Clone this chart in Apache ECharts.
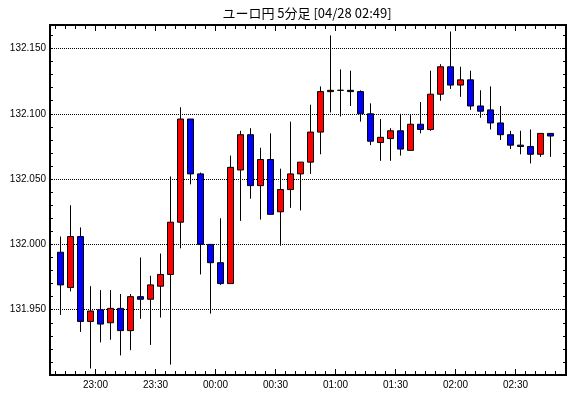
<!DOCTYPE html>
<html><head><meta charset="utf-8">
<script src="https://cdn.jsdelivr.net/npm/echarts@6/dist/echarts.min.js"></script>
<style>html,body{margin:0;padding:0;background:#fff}#c{width:570px;height:398px}</style>
</head><body><div id="c"></div>
<script>
const chartTitle = 'ユーロ円 5分足 [04/28 02:49]';
const times = ['22:40','22:45','22:50','22:55','23:00','23:05','23:10','23:15','23:20','23:25',
  '23:30','23:35','23:40','23:45','23:50','23:55','00:00','00:05','00:10','00:15',
  '00:20','00:25','00:30','00:35','00:40','00:45','00:50','00:55','01:00','01:05',
  '01:10','01:15','01:20','01:25','01:30','01:35','01:40','01:45','01:50','01:55',
  '02:00','02:05','02:10','02:15','02:20','02:25','02:30','02:35','02:40','02:45'];
const openV = [131.994,131.967,132.006,131.941,131.950,131.940,131.951,131.934,131.960,131.958,
  131.968,131.977,132.017,132.096,132.054,132.000,131.986,131.970,132.057,132.084,
  132.045,132.065,132.025,132.042,132.054,132.063,132.086,132.117,132.118,132.118,
  132.117,132.100,132.078,132.081,132.087,132.072,132.092,132.088,132.115,132.136,
  132.122,132.126,132.106,132.103,132.093,132.084,132.076,132.075,132.069,132.085];
const closeV = [131.969,132.006,131.941,131.949,131.939,131.951,131.934,131.960,131.958,131.969,
  131.977,132.017,132.096,132.054,132.000,131.986,131.970,132.059,132.084,132.045,
  132.065,132.023,132.042,132.054,132.063,132.086,132.117,132.118,132.118,132.117,
  132.100,132.079,132.082,132.087,132.073,132.092,132.088,132.115,132.136,132.122,
  132.126,132.106,132.102,132.093,132.084,132.076,132.075,132.069,132.085,132.083];
const lowV = [131.946,131.964,131.933,131.905,131.925,131.927,131.915,131.919,131.943,131.923,
  131.944,131.908,131.997,132.046,131.977,131.947,131.969,131.970,132.018,132.035,
  132.019,132.023,131.999,132.028,132.026,132.054,132.069,132.101,132.098,132.106,
  132.094,132.076,132.064,132.064,132.068,132.072,132.085,132.087,132.110,132.119,
  132.113,132.103,132.097,132.088,132.080,132.073,132.069,132.062,132.067,132.067];
const highV = [132.006,132.030,132.013,131.968,131.965,131.965,131.962,131.962,131.990,131.976,
  131.993,132.052,132.105,132.096,132.055,132.000,132.020,132.068,132.087,132.089,
  132.074,132.085,132.058,132.094,132.063,132.107,132.121,132.160,132.134,132.133,
  132.118,132.108,132.096,132.089,132.100,132.099,132.109,132.133,132.138,132.163,
  132.136,132.133,132.118,132.121,132.106,132.087,132.087,132.088,132.085,132.085];
const xTickLabels = ['23:00','23:30','00:00','00:30','01:00','01:30','02:00','02:30'];
const yTickLabels = ['131.950','132.000','132.050','132.100','132.150'];

// minutes since 22:00
function toMin(s){ let p = s.split(':').map(Number); let h = p[0]; if (h < 12) h += 24; return (h - 22) * 60 + p[1]; }
function fromMin(m){ const t = Math.round(m); const h = (22 + Math.floor(t / 60)) % 24; const mm = t % 60; return String(h).padStart(2,'0') + ':' + String(mm).padStart(2,'0'); }

const X_MIN = 37.25, X_MAX = 295.25;
const Y_MIN = 131.9, Y_MAX = 132.168;
const candles = times.map((t, i) => [toMin(t) + 2.5, openV[i], closeV[i], lowV[i], highV[i]]);
const majorTicks = xTickLabels.map(toMin);
const minorTicks = [];
for (let m = 40; m < X_MAX; m += 5) { if (majorTicks.indexOf(m) < 0) minorTicks.push(m); }
const yLabelVals = yTickLabels.map(Number);

const font = 'Liberation Sans';
const black = '#000';
function xAx(pos, ticks, len, labels) {
  return {
    type: 'value', position: pos, min: X_MIN, max: X_MAX,
    axisLine: { show: false }, splitLine: { show: false },
    axisTick: { show: true, inside: true, length: len, customValues: ticks, lineStyle: { color: black, width: 1 } },
    axisLabel: labels ? { show: true, customValues: ticks, margin: 5, fontSize: 10, fontFamily: font, color: black,
      formatter: v => fromMin(v) } : { show: false }
  };
}
function yAx(pos, labels) {
  return {
    type: 'value', position: pos, min: Y_MIN, max: Y_MAX, interval: 0.01,
    axisLine: { show: false }, splitLine: { show: false },
    axisTick: { show: true, inside: true, length: 3, lineStyle: { color: black, width: 1 } },
    axisLabel: labels ? { show: true, margin: 4, fontSize: 10, fontFamily: font, color: black,
      showMinLabel: true, showMaxLabel: true,
      formatter: v => { const hit = yLabelVals.find(t => Math.abs(t - v) < 1e-6); return hit !== undefined ? hit.toFixed(3) : ''; } } : { show: false }
  };
}

const chart = echarts.init(document.getElementById('c'), null, { renderer: 'canvas' });
chart.setOption({
  animation: false,
  backgroundColor: '#fff',
  grid: { left: 50, right: 4, top: 25, bottom: 23, show: true, borderColor: black, borderWidth: 2, backgroundColor: 'transparent' },
  graphic: [{ type: 'text', x: 307, y: 13, z: 10,
    style: { text: chartTitle, font: '13px "Noto Sans CJK JP"', fill: black, textAlign: 'center', textVerticalAlign: 'middle' } }],
  xAxis: [
    xAx('bottom', minorTicks, 4, false),
    xAx('bottom', majorTicks, 6, true),
    xAx('top', minorTicks, 4, false),
    xAx('top', majorTicks, 6, false)
  ],
  yAxis: [
    yAx('left', true),
    yAx('right', false),
    { type: 'value', position: 'left', min: Y_MIN, max: Y_MAX, interval: 0.05,
      axisLine: { show: false }, axisTick: { show: false }, axisLabel: { show: false },
      splitLine: { show: true, lineStyle: { color: black, width: 1, type: [1, 1] } } }
  ],
  series: [{
    type: 'candlestick', xAxisIndex: 0, yAxisIndex: 0,
    barWidth: 6,
    itemStyle: { color: '#ff0000', color0: '#0000ff', borderColor: black, borderColor0: black, borderColorDoji: black, borderWidth: 1 },
    data: candles
  }]
});
</script></body></html>
